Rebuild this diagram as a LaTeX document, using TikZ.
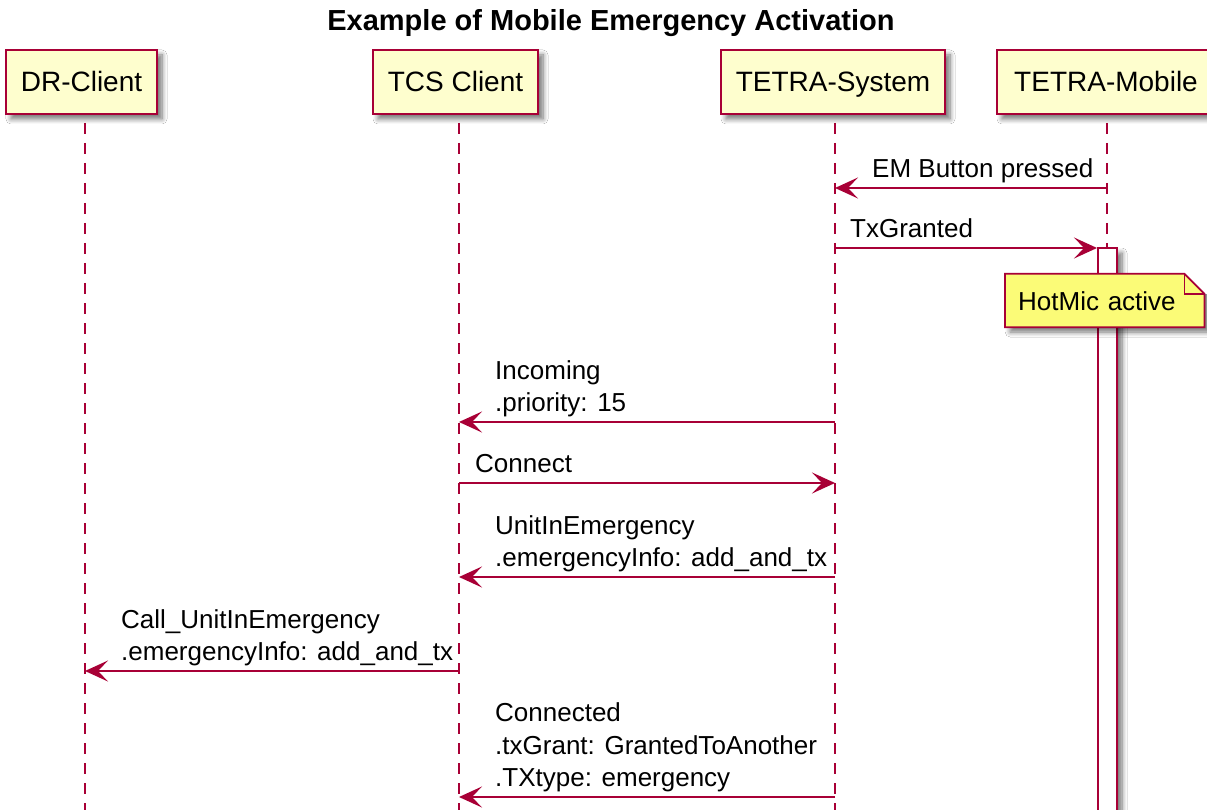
\documentclass[tikz,border=0pt]{standalone}
\usepackage{fontspec}
\setmainfont{Liberation Sans}
\usetikzlibrary{arrows.meta,shadows.blur}
\definecolor{pucrim}{HTML}{A80036}
\definecolor{pubox}{HTML}{FEFECE}
\definecolor{punote}{HTML}{FBFB77}
\begin{document}
\begin{tikzpicture}[x=1pt,y=-1pt,
  shd/.style={blur shadow={shadow xshift=5pt, shadow yshift=-5pt, shadow blur radius=5pt, shadow blur steps=8, shadow opacity=55}},
  part/.style={draw=pucrim, line width=2.5pt, fill=pubox, minimum height=64pt, inner sep=0pt,
    text height=20pt, text depth=0pt, font=\fontsize{28}{34}\selectfont, shd},
  life/.style={draw=pucrim, line width=2pt, dash pattern=on 11pt off 9pt},
  msg/.style={draw=pucrim, line width=2pt, -{Stealth[length=23pt,width=21pt,inset=10pt]}},
  lbl/.style={anchor=south west, inner sep=0pt, text depth=0pt, align=left, font=\fontsize{26}{32.5}\selectfont},
  actbar/.style={draw=pucrim, line width=2pt, fill=white, minimum width=19pt, inner sep=0pt, shd},
  notebox/.style={fill=punote, anchor=west, minimum height=53pt, inner xsep=13pt, inner ysep=0pt,
    text width=173pt, align=left, text height=19pt, text depth=0pt, font=\fontsize{26}{32.5}\selectfont, shd},
]
\useasboundingbox (0,0) rectangle (1207,810);
\fill[white] (0,0) rectangle (1207,810);

% title
\node[font=\fontsize{29}{35}\selectfont\bfseries, anchor=base] (title) at (611,31) {Example of Mobile Emergency Activation};

% lifelines
\coordinate (drT) at (85,123);   \coordinate (drB) at (85,815);
\coordinate (tcsT) at (459,123); \coordinate (tcsB) at (459,815);
\coordinate (sysT) at (835,123); \coordinate (sysB) at (835,815);
\coordinate (mobT) at (1107,123);\coordinate (mobB) at (1107,815);
\draw[life] (drT) -- (drB);
\draw[life] (tcsT) -- (tcsB);
\draw[life] (sysT) -- (sysB);
\draw[life] (mobT) -- (mobB);

% participants
\node[part, minimum width=151pt] (dr) at (81.5,82) {DR-Client};
\node[part, minimum width=165pt] (tcs) at (455.5,82) {TCS Client};
\node[part, minimum width=224pt] (sys) at (833,82) {TETRA-System};
\node[part, minimum width=218pt] (mob) at (1106,82) {TETRA-Mobile};

% activation bar
\node[actbar, minimum height=582pt] (act) at (1107.5,539) {};

% message 1
\coordinate (m1a) at (1107,188); \coordinate (m1b) at (835,188);
\draw[msg] (m1a) -- (m1b);
\node[lbl] (t1) at (872,178) {EM Button pressed};

% message 2
\coordinate (m2a) at (835,248);
\draw[msg] (m2a) -- (act.west |- m2a);
\node[lbl] (t2) at (850,238) {TxGranted};

% note
\node[notebox] (hot) at (1005,300.5) {HotMic active};
\fill[white] ([xshift=-20pt]hot.north east) -- ([xshift=8pt,yshift=1pt]hot.north east) -- ([xshift=8pt,yshift=-20pt]hot.north east) -- ([yshift=-20pt]hot.north east) -- cycle;
\draw[pucrim, line width=1.8pt, line join=miter] (hot.south west) -- (hot.north west) -- ([xshift=-20pt]hot.north east) -- ([yshift=-20pt]hot.north east) -- (hot.south east) -- cycle;
\draw[pucrim, line width=1.8pt] ([xshift=-20pt]hot.north east) -- ([xshift=-20pt,yshift=-20pt]hot.north east) -- ([yshift=-20pt]hot.north east);

% message 3
\coordinate (m3a) at (835,422); \coordinate (m3b) at (459,422);
\draw[msg] (m3a) -- (m3b);
\node[lbl] (t3) at (495,412) {Incoming\\.priority: 15};

% message 4
\coordinate (m4a) at (459,483); \coordinate (m4b) at (835,483);
\draw[msg] (m4a) -- (m4b);
\node[lbl] (t4) at (475,473) {Connect};

% message 5
\coordinate (m5a) at (835,577); \coordinate (m5b) at (459,577);
\draw[msg] (m5a) -- (m5b);
\node[lbl] (t5) at (495,567) {UnitInEmergency\\.emergencyInfo: add\_and\_tx};

% message 6
\coordinate (m6a) at (459,671); \coordinate (m6b) at (85,671);
\draw[msg] (m6a) -- (m6b);
\node[lbl] (t6) at (121,661) {Call\_UnitInEmergency\\.emergencyInfo: add\_and\_tx};

% message 7
\coordinate (m7a) at (835,797); \coordinate (m7b) at (459,797);
\draw[msg] (m7a) -- (m7b);
\node[lbl] (t7) at (495,787) {Connected\\.txGrant: GrantedToAnother\\.TXtype: emergency};
\end{tikzpicture}
\end{document}
